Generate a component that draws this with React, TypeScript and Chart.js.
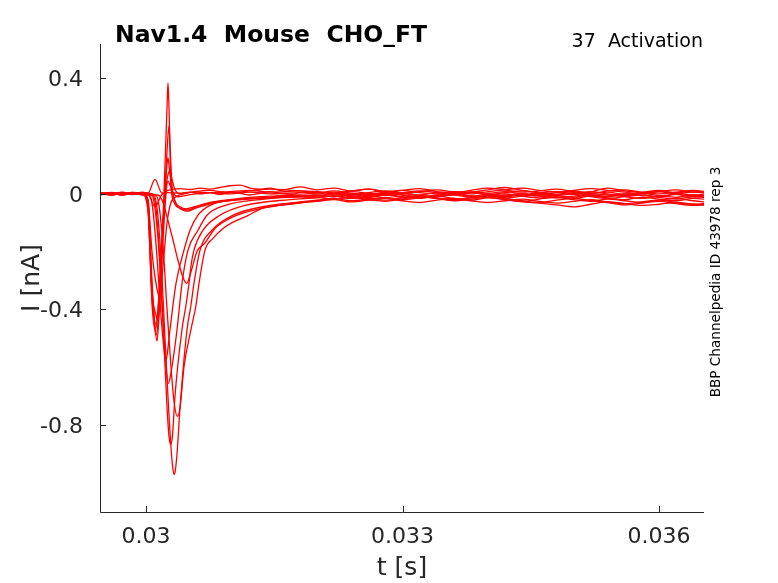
import React, { useEffect, useRef } from 'react';
import { Chart, registerables } from 'chart.js';

Chart.register(...registerables);

// axis ticks
const xTicks = [0.03, 0.033, 0.036];
const xTickLabels = ['0.03', '0.033', '0.036'];
const yTicks = [0.4, 0, -0.4, -0.8];
const yTickLabels = ['0.4', '0', '-0.4', '-0.8'];

// shared time grid for the late (steady) part of every sweep
const tailTimes = [
    0.032, 0.0322, 0.0324, 0.0326, 0.0328, 0.033, 0.0332, 0.0334, 0.0336, 0.0338, 0.034, 0.0342,
    0.0344, 0.0346, 0.0348, 0.035, 0.0352, 0.0354, 0.0356, 0.0358, 0.036, 0.0362, 0.0364, 0.0366,
];

// early part of each sweep: [t (s), I (nA)]
const headA: [number, number][] = [
    [0.02946, 0.004], [0.0296, -0.003], [0.02972, 0.005], [0.02984, 0.001], [0.02996, 0.006],
    [0.030023, 0.002], [0.030105, 0.05], [0.030187, 0.002], [0.030257, 0.012], [0.030398, 0.018],
    [0.030515, 0.015], [0.030632, 0.02], [0.030749, 0.016], [0.030865, 0.022], [0.030982, 0.028],
    [0.031099, 0.03], [0.031216, 0.02], [0.031333, 0.016], [0.03145, 0.02], [0.031567, 0.012],
    [0.031684, 0.018], [0.031801, 0.024],
];
const tailA = [0.014, 0.02, 0.01, 0.016, 0.006, 0.012, 0.018, 0.008, 0.004, 0.012, 0.02, 0.014, 0.006, 0.01, 0.016, 0.008, 0.002, 0.01, 0.014, 0.006, 0.012, 0.004, 0.01, 0.006];

const headB: [number, number][] = [
    [0.02946, -0.002], [0.0296, 0.004], [0.02972, -0.001], [0.02984, 0.003], [0.02996, -0.003],
    [0.030023, -0.002], [0.030105, -0.045], [0.030187, -0.002], [0.030257, 0.004], [0.030398, 0.002],
    [0.030515, 0.006], [0.030632, 0.0], [0.030749, 0.004], [0.030865, -0.002], [0.030982, 0.006],
    [0.031099, 0.002], [0.031216, -0.004], [0.031333, 0.002], [0.03145, 0.008], [0.031567, 0.002],
    [0.031684, -0.002], [0.031801, 0.004],
];
const tailB = [0.006, 0.0, 0.008, 0.002, -0.004, 0.004, 0.01, 0.004, -0.002, 0.006, 0.002, 0.008, 0.0, -0.004, 0.004, 0.01, 0.002, 0.006, -0.002, 0.004, 0.008, 0.0, 0.006, 0.002];

const headC1: [number, number][] = [
    [0.02946, 0.002], [0.0296, -0.004], [0.02972, 0.003], [0.02984, -0.002], [0.02996, 0.004],
    [0.030023, -0.02], [0.03007, -0.3], [0.030105, -0.46], [0.030129, -0.51], [0.030152, -0.42],
    [0.030187, -0.18], [0.030222, 0.1], [0.030246, 0.3], [0.030257, 0.385], [0.030269, 0.3],
    [0.030292, 0.03], [0.030328, -0.03], [0.030363, -0.045], [0.030421, -0.052], [0.030491, -0.056],
    [0.030573, -0.046], [0.03069, -0.036], [0.030865, -0.026], [0.031099, -0.018], [0.031333, -0.014],
    [0.031567, -0.01], [0.031801, -0.006],
];
const tailC1 = [-0.004, -0.01, 0.0, -0.006, 0.002, -0.004, -0.012, -0.006, 0.0, -0.008, -0.002, -0.01, -0.004, 0.002, -0.006, -0.012, -0.004, -0.008, 0.0, -0.006, -0.01, -0.002, -0.008, -0.004];

const headC2: [number, number][] = [
    [0.02946, -0.003], [0.0296, 0.002], [0.02972, -0.004], [0.02984, 0.003], [0.02996, -0.001],
    [0.030023, -0.03], [0.03007, -0.33], [0.030105, -0.47], [0.030117, -0.49], [0.03014, -0.45],
    [0.030175, -0.28], [0.030211, -0.04], [0.030246, 0.15], [0.030269, 0.235], [0.030281, 0.17],
    [0.030304, 0.03], [0.030339, -0.025], [0.030398, -0.045], [0.030468, -0.052], [0.030573, -0.044],
    [0.030749, -0.03], [0.030982, -0.02], [0.031216, -0.012], [0.03145, -0.008], [0.031801, -0.004],
];
const tailC2 = [-0.008, 0.0, -0.006, -0.012, -0.004, 0.002, -0.006, -0.01, -0.002, 0.004, -0.004, -0.008, 0.0, -0.006, -0.014, -0.008, 0.0, -0.004, -0.01, -0.016, -0.008, -0.002, -0.01, -0.006];

const headC3: [number, number][] = [
    [0.02946, 0.001], [0.0296, 0.005], [0.02972, -0.002], [0.02984, 0.004], [0.02996, 0.0],
    [0.030023, -0.04], [0.03007, -0.38], [0.030105, -0.47], [0.030129, -0.44], [0.030164, -0.3],
    [0.030199, -0.1], [0.030234, 0.06], [0.030257, 0.125], [0.030275, 0.08], [0.030304, 0.01],
    [0.030351, -0.035], [0.030421, -0.055], [0.030491, -0.06], [0.030573, -0.05], [0.03069, -0.04],
    [0.030865, -0.028], [0.031099, -0.02], [0.031333, -0.016], [0.031567, -0.012], [0.031801, -0.01],
];
const tailC3 = [-0.012, -0.018, -0.01, -0.016, -0.022, -0.014, -0.008, -0.016, -0.024, -0.018, -0.012, -0.02, -0.028, -0.032, -0.038, -0.045, -0.036, -0.028, -0.034, -0.04, -0.036, -0.03, -0.036, -0.04];

const headC4: [number, number][] = [
    [0.02946, 0.005], [0.0296, 0.0], [0.02972, 0.006], [0.02984, -0.002], [0.02996, 0.003],
    [0.030023, -0.05], [0.03007, -0.36], [0.030117, -0.45], [0.03014, -0.4], [0.030175, -0.22],
    [0.030211, -0.05], [0.030246, 0.05], [0.030281, 0.08], [0.030304, 0.05], [0.030339, 0.015],
    [0.030398, 0.0], [0.030468, 0.004], [0.030573, 0.006], [0.030749, 0.004], [0.030982, 0.008],
    [0.031216, 0.012], [0.03145, 0.006], [0.031801, 0.01],
];
const tailC4 = [0.004, 0.01, 0.002, -0.004, 0.006, 0.012, 0.004, 0.0, 0.008, 0.006, 0.014, 0.022, 0.012, 0.004, 0.008, 0.0, 0.006, 0.02, 0.01, 0.004, 0.0, 0.006, 0.012, 0.004];

const headC5: [number, number][] = [
    [0.02946, -0.001], [0.0296, 0.003], [0.02972, -0.005], [0.02984, 0.001], [0.02996, -0.002],
    [0.030023, -0.06], [0.03007, -0.34], [0.030117, -0.42], [0.03014, -0.44], [0.030164, -0.36],
    [0.030199, -0.16], [0.030234, 0.0], [0.030257, 0.045], [0.030281, 0.03], [0.030316, 0.005],
    [0.030374, -0.01], [0.030456, -0.006], [0.030573, 0.0], [0.030749, 0.004], [0.030982, 0.0],
    [0.031216, 0.006], [0.03145, 0.0], [0.031801, 0.004],
];
const tailC5 = [0.0, 0.006, -0.002, 0.004, 0.01, 0.002, -0.004, 0.004, 0.0, 0.006, -0.002, 0.004, 0.01, 0.004, -0.002, 0.002, 0.008, 0.0, -0.006, 0.002, 0.008, 0.002, -0.004, 0.002];

const headC6: [number, number][] = [
    [0.02946, 0.0], [0.0296, 0.004], [0.02972, -0.002], [0.02984, 0.005], [0.02996, 0.001],
    [0.030023, -0.02], [0.03007, -0.2], [0.030129, -0.33], [0.030164, -0.36], [0.030199, -0.25],
    [0.030246, -0.1], [0.030292, -0.03], [0.030351, -0.01], [0.030444, 0.0], [0.030573, 0.008],
    [0.030749, 0.012], [0.030982, 0.004], [0.031216, 0.01], [0.03145, 0.016], [0.031801, 0.01],
];
const tailC6 = [0.008, 0.002, 0.01, 0.016, 0.008, 0.002, 0.008, 0.014, 0.006, 0.0, 0.008, 0.014, 0.02, 0.012, 0.006, 0.012, 0.018, 0.012, 0.006, 0.0, 0.008, 0.014, 0.006, 0.01];

const headD1: [number, number][] = [
    [0.02946, 0.003], [0.0296, -0.002], [0.02972, 0.004], [0.02984, -0.003], [0.02996, 0.002],
    [0.030047, -0.005], [0.030082, -0.06], [0.030129, -0.22], [0.030175, -0.42], [0.030211, -0.54],
    [0.03023, -0.58], [0.030246, -0.56], [0.030281, -0.47], [0.030351, -0.31], [0.030444, -0.195],
    [0.030515, -0.126], [0.030608, -0.074], [0.030749, -0.04], [0.031099, -0.02], [0.03145, -0.012],
    [0.031801, -0.006],
];
const tailD1 = [-0.006, 0.0, -0.008, -0.002, 0.004, -0.004, -0.01, -0.004, 0.002, -0.006, -0.012, -0.004, 0.0, -0.008, -0.002, 0.004, -0.004, -0.01, -0.002, 0.002, -0.006, -0.012, -0.004, -0.008];

const headD2: [number, number][] = [
    [0.02946, -0.004], [0.0296, 0.002], [0.02972, -0.001], [0.02984, 0.005], [0.02996, -0.002],
    [0.03007, -0.005], [0.030105, -0.05], [0.030152, -0.2], [0.030199, -0.44], [0.030234, -0.6],
    [0.030261, -0.656], [0.030292, -0.62], [0.030363, -0.47], [0.030421, -0.31], [0.030491, -0.195],
    [0.030608, -0.126], [0.030713, -0.074], [0.030924, -0.04], [0.031333, -0.02], [0.031801, -0.01],
];
const tailD2 = [-0.012, -0.006, -0.014, -0.008, -0.002, -0.01, -0.016, -0.008, -0.004, -0.012, -0.006, 0.0, -0.008, -0.014, -0.006, -0.002, -0.01, -0.016, -0.01, -0.004, -0.012, -0.018, -0.01, -0.014];

const headD3: [number, number][] = [
    [0.02946, 0.001], [0.0296, -0.004], [0.02972, 0.002], [0.02984, -0.001], [0.02996, 0.004],
    [0.030082, -0.005], [0.030117, -0.05], [0.030164, -0.24], [0.030211, -0.52], [0.030246, -0.74],
    [0.030269, -0.84], [0.030289, -0.868], [0.030309, -0.84], [0.030339, -0.7], [0.030421, -0.47],
    [0.030468, -0.385], [0.030503, -0.31], [0.030526, -0.25], [0.030561, -0.195], [0.030667, -0.126],
    [0.030865, -0.074], [0.031158, -0.04], [0.031684, -0.02],
];
const tailD3 = [-0.014, -0.008, -0.016, -0.01, -0.004, -0.012, -0.006, -0.014, -0.02, -0.012, -0.006, -0.014, -0.008, -0.002, -0.01, -0.016, -0.008, -0.014, -0.02, -0.012, -0.018, -0.024, -0.016, -0.02];

const headD4: [number, number][] = [
    [0.02946, -0.002], [0.0296, 0.003], [0.02972, -0.003], [0.02984, 0.002], [0.02996, -0.001],
    [0.030094, -0.005], [0.030129, -0.05], [0.030175, -0.22], [0.030222, -0.5], [0.030261, -0.725],
    [0.0303, -0.91], [0.030316, -0.955], [0.030327, -0.972], [0.030339, -0.965], [0.030363, -0.9],
    [0.030398, -0.74], [0.03048, -0.47], [0.030526, -0.385], [0.030561, -0.31], [0.030632, -0.195],
    [0.030772, -0.126], [0.031018, -0.074], [0.03145, -0.04], [0.031801, -0.028],
];
const tailD4 = [-0.022, -0.016, -0.024, -0.018, -0.012, -0.02, -0.014, -0.008, -0.016, -0.022, -0.014, -0.02, -0.026, -0.018, -0.012, -0.02, -0.026, -0.018, -0.024, -0.03, -0.022, -0.016, -0.024, -0.03];

const headD5: [number, number][] = [
    [0.02946, 0.002], [0.0296, -0.003], [0.02972, 0.004], [0.02984, 0.0], [0.02996, 0.003],
    [0.030117, -0.005], [0.030152, -0.04], [0.030199, -0.18], [0.030246, -0.4], [0.030292, -0.6],
    [0.030328, -0.72], [0.030366, -0.771], [0.030398, -0.74], [0.030444, -0.6], [0.030526, -0.47],
    [0.030585, -0.385], [0.03062, -0.31], [0.03069, -0.195], [0.030784, -0.154], [0.030901, -0.12],
    [0.031018, -0.098], [0.031181, -0.077], [0.031357, -0.05], [0.031567, -0.039], [0.031801, -0.03],
];
const tailD5 = [-0.026, -0.02, -0.028, -0.022, -0.016, -0.024, -0.03, -0.022, -0.016, -0.024, -0.03, -0.024, -0.018, -0.026, -0.032, -0.026, -0.02, -0.028, -0.034, -0.028, -0.022, -0.03, -0.036, -0.03];

const headS6: [number, number][] = [
    [0.02946, -0.001], [0.0296, 0.004], [0.02972, -0.002], [0.02984, 0.003], [0.02996, -0.004],
    [0.03014, -0.004], [0.030199, -0.03], [0.030246, -0.08], [0.030316, -0.16], [0.030374, -0.23],
    [0.030433, -0.29], [0.030476, -0.31], [0.030526, -0.27], [0.030596, -0.2], [0.03069, -0.17],
    [0.030807, -0.12], [0.030982, -0.085], [0.031216, -0.06], [0.03145, -0.045], [0.031801, -0.032],
];
const tailS6 = [-0.024, -0.018, -0.012, -0.02, -0.026, -0.018, -0.01, -0.016, -0.022, -0.014, -0.008, -0.016, -0.024, -0.03, -0.022, -0.016, -0.024, -0.03, -0.038, -0.032, -0.026, -0.034, -0.04, -0.036];

const sweeps = [
    { head: headA, tail: tailA },
    { head: headB, tail: tailB },
    { head: headC1, tail: tailC1 },
    { head: headC2, tail: tailC2 },
    { head: headC3, tail: tailC3 },
    { head: headC4, tail: tailC4 },
    { head: headC5, tail: tailC5 },
    { head: headC6, tail: tailC6 },
    { head: headD1, tail: tailD1 },
    { head: headD2, tail: tailD2 },
    { head: headD3, tail: tailD3 },
    { head: headD4, tail: tailD4 },
    { head: headD5, tail: tailD5 },
    { head: headS6, tail: tailS6 },
];

const FONT = '"DejaVu Sans", Verdana, sans-serif';
const AXIS_COLOR = '#262626';

// MATLAB-like axes: left/bottom lines, inward ticks, labels and the figure texts
const matlabAxes = {
    id: 'matlabAxes',
    afterDraw(chart: any) {
        const { ctx, chartArea: a, scales } = chart;
        const xs = scales.x;
        const ys = scales.y;
        ctx.save();
        ctx.strokeStyle = AXIS_COLOR;
        ctx.lineWidth = 1;
        ctx.beginPath();
        ctx.moveTo(a.left + 0.5, a.top);
        ctx.lineTo(a.left + 0.5, a.bottom + 0.5);
        ctx.lineTo(a.right, a.bottom + 0.5);
        xTicks.forEach((v) => {
            const px = Math.round(xs.getPixelForValue(v)) + 0.5;
            ctx.moveTo(px, a.bottom);
            ctx.lineTo(px, a.bottom - 6);
        });
        yTicks.forEach((v) => {
            const py = Math.round(ys.getPixelForValue(v)) + 0.5;
            ctx.moveTo(a.left, py);
            ctx.lineTo(a.left + 6, py);
        });
        ctx.stroke();

        ctx.fillStyle = AXIS_COLOR;
        ctx.font = `22px ${FONT}`;
        ctx.textBaseline = 'alphabetic';
        ctx.textAlign = 'center';
        xTicks.forEach((v, i) => {
            ctx.fillText(xTickLabels[i], xs.getPixelForValue(v), 543);
        });
        ctx.textAlign = 'right';
        yTicks.forEach((v, i) => {
            ctx.fillText(yTickLabels[i], 83, ys.getPixelForValue(v) + 8);
        });

        ctx.font = `25px ${FONT}`;
        ctx.textAlign = 'center';
        ctx.fillText('t [s]', (a.left + a.right) / 2, 575);
        ctx.save();
        ctx.translate(39, (a.top + a.bottom) / 2);
        ctx.rotate(-Math.PI / 2);
        ctx.fillText('I [nA]', 0, 0);
        ctx.restore();

        ctx.fillStyle = '#000';
        ctx.font = `bold 23.5px ${FONT}`;
        ctx.textAlign = 'left';
        ctx.fillText('Nav1.4  Mouse  CHO_FT', 115, 42);

        ctx.font = `19px ${FONT}`;
        ctx.textAlign = 'right';
        ctx.fillText('37  Activation', 703, 47);

        ctx.save();
        ctx.translate(716, 282);
        ctx.rotate(-Math.PI / 2);
        ctx.font = `13.6px ${FONT}`;
        ctx.textAlign = 'center';
        ctx.textBaseline = 'middle';
        ctx.fillText('BBP Channelpedia ID 43978 rep 3', 0, 0);
        ctx.restore();

        ctx.restore();
    },
};

const App: React.FC = () => {
    const chartRef = useRef<HTMLCanvasElement | null>(null);

    useEffect(() => {
        if (!chartRef.current) return;

        const datasets = sweeps.map((s) => ({
            data: s.head
                .map(([t, i]) => ({ x: t, y: i }))
                .concat(tailTimes.map((t, k) => ({ x: t, y: s.tail[k] }))),
            borderColor: '#ff0000',
            borderWidth: 1.3,
            pointRadius: 0,
            fill: false,
            cubicInterpolationMode: 'monotone' as const,
        }));

        const myChart = new Chart(chartRef.current, {
            type: 'line',
            data: { datasets },
            options: {
                animation: false,
                responsive: false,
                events: [],
                layout: { padding: { left: 100, top: 44, right: 74, bottom: 71 } },
                plugins: { legend: { display: false }, tooltip: { enabled: false } },
                scales: {
                    x: { type: 'linear', display: false, min: 0.029462, max: 0.036526 },
                    y: { type: 'linear', display: false, min: -1.102, max: 0.519 },
                },
            },
            plugins: [matlabAxes],
        });

        return () => {
            myChart.destroy();
        };
    }, []);

    return (
        <div style={{ position: 'fixed', left: 0, top: 0, width: 778, height: 583, background: '#fff' }}>
            <canvas ref={chartRef} width={778} height={583} style={{ width: '778px', height: '583px' }} />
        </div>
    );
};

export default App;
